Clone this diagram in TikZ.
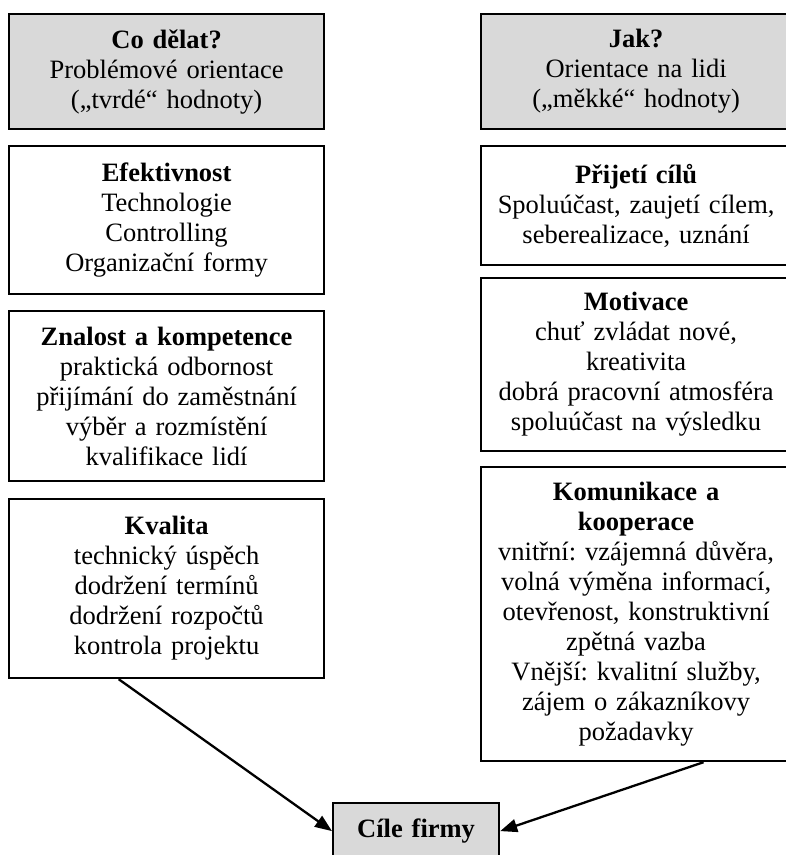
\documentclass[tikz,border=0pt]{standalone}
\usepackage{fontspec}
\setmainfont{Liberation Serif}
\frenchspacing
\usetikzlibrary{arrows.meta,calc}
\begin{document}
\begin{tikzpicture}[x=1pt,y=1pt,
  box/.style={draw=black, line width=2.2pt, anchor=north west, inner xsep=0pt, inner ysep=0pt,
    align=center, font=\fontsize{26.5}{30}\selectfont},
  graybox/.style={box, fill=boxgray},
  arr/.style={line width=2.3pt, -{Triangle[length=17pt,width=13pt]}}]
\definecolor{boxgray}{HTML}{D9D9D9}
\clip (0,0) rectangle (786,-855);
\fill[white] (0,0) rectangle (786,-855);
% left column
\node[graybox, text width=315pt, minimum height=115pt] (L1) at (8,-13)
  {\textbf{Co dělat?}\\Problémové orientace\\(„tvrdé“ hodnoty)};
\node[box, text width=315pt, minimum height=148pt] (L2) at (8,-145)
  {\textbf{Efektivnost}\\Technologie\\Controlling\\Organizační formy};
\node[box, text width=315pt, minimum height=170pt] (L3) at (8,-310)
  {\textbf{Znalost a kompetence}\\praktická odbornost\\přijímání do zaměstnání\\výběr a rozmístění\\kvalifikace lidí};
\node[box, text width=315pt, minimum height=179pt] (L4) at (8,-498)
  {\textbf{Kvalita}\\technický úspěch\\dodržení termínů\\dodržení rozpočtů\\kontrola projektu};
% right column
\node[graybox, text width=310pt, minimum height=115pt] (R1) at (480,-13)
  {\textbf{Jak?}\\Orientace na lidi\\(„měkké“ hodnoty)};
\node[box, text width=310pt, minimum height=119pt] (R2) at (480,-145)
  {\textbf{Přijetí cílů}\\Spoluúčast, zaujetí cílem,\\seberealizace, uznání};
\node[box, text width=310pt, minimum height=173pt] (R3) at (480,-277)
  {\textbf{Motivace}\\chuť zvládat nové,\\kreativita\\dobrá pracovní atmosféra\\spoluúčast na výsledku};
\node[box, text width=310pt, minimum height=294pt] (R4) at (480,-466)
  {\textbf{Komunikace a}\\\textbf{kooperace}\\vnitřní: vzájemná důvěra,\\volná výměna informací,\\otevřenost, konstruktivní\\zpětná vazba\\Vnější: kvalitní služby,\\zájem o zákazníkovy\\požadavky};
% goal
\node[graybox, text width=166pt, minimum height=56pt] (C) at (332,-802)
  {\textbf{Cíle firmy}};
% connectors
\coordinate (LS) at ($(L4.south west)!0.349!(L4.south east)$);
\coordinate (RS) at ($(R4.south west)!0.716!(R4.south east)$);
\draw[arr] (LS) -- (C.west);
\draw[arr] (RS) -- (C.east);
\end{tikzpicture}
\end{document}
